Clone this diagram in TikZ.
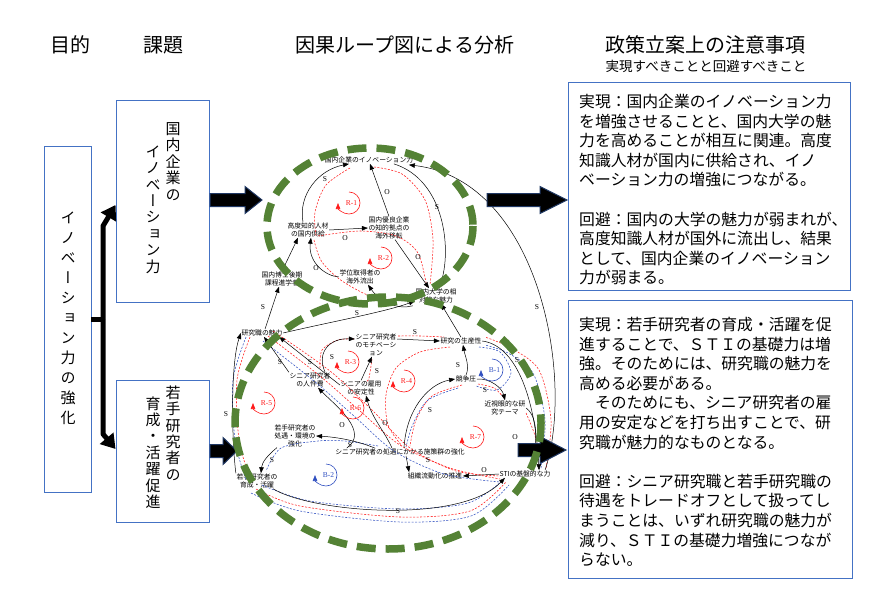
\documentclass[tikz,border=0pt]{standalone}
\usepackage{fontspec}
\setmainfont{Noto Sans CJK JP}
\newfontfamily\vjp[RawFeature=+vert]{Noto Sans CJK JP}
\newfontfamily\latser{Liberation Serif}
\usetikzlibrary{arrows.meta,calc}
\definecolor{boxblue}{HTML}{4472C4}
\definecolor{dgreen}{HTML}{548235}
\definecolor{navy}{HTML}{203864}
\definecolor{loopred}{HTML}{FF1A1A}
\definecolor{loopblue}{HTML}{2F4FC0}
\newcommand\blkarrow[4]{%
  \draw[blockarr] (#1,#3-6.5) -- (#2-#4,#3-6.5) -- (#2-#4,#3-13.5) -- (#2,#3) -- (#2-#4,#3+13.5) -- (#2-#4,#3+6.5) -- (#1,#3+6.5) -- cycle;}
\newcommand\loopmk[5]{%
  \node[font=\latser\fontsize{7.5}{8}\selectfont, text=#5, inner sep=0] (#1) at (#2+2.5,#3) {#4};
  \draw[#5, line width=0.6pt, -{Triangle[length=6pt,width=4.5pt]}] (#2,#3-11) arc[start angle=-90, end angle=180, radius=11];}
\begin{document}
\begin{tikzpicture}[x=1pt,y=-1pt,
  box/.style={draw=boxblue, line width=0.9pt, inner sep=0},
  vtext/.style={font=\vjp\fontsize{15}{16.4}\selectfont, align=center, inner sep=0},
  cld/.style={font=\fontsize{6.8}{7.8}\selectfont, align=center, inner sep=0.5pt},
  lab/.style={font=\latser\fontsize{7.5}{8}\selectfont, inner sep=0},
  arr/.style={draw=black, line width=0.5pt, -{Triangle[length=6pt,width=4.5pt]}},
  rd/.style={draw=loopred, line width=0.55pt, dash pattern=on 2pt off 1.5pt},
  bd/.style={draw=loopblue, line width=0.55pt, dash pattern=on 2pt off 1.5pt},
  gdash/.style={draw=dgreen, line width=7.5pt, dash pattern=on 19pt off 10pt},
  blockarr/.style={fill=black, draw=navy, line width=1pt},
  thickbr/.style={line width=5pt, line join=round},
  rtext/.style={font=\fontsize{15.8}{19.6}\selectfont, align=left, anchor=north west, inner sep=0},
]
\useasboundingbox (0,0) rectangle (896,607);

% headers
\node[font=\fontsize{20}{22}\selectfont] (h1) at (70,45) {目的};
\node[font=\fontsize{20}{22}\selectfont] (h2) at (163,45) {課題};
\node[font=\fontsize{20}{22}\selectfont] (h3) at (405,45) {因果ループ図による分析};
\node[font=\fontsize{20}{22}\selectfont] (h4) at (705,45) {政策立案上の注意事項};
\node[font=\fontsize{13.5}{15}\selectfont] (h5) at (706,66) {実現すべきことと回避すべきこと};

% left boxes
\node[box, minimum width=47pt, minimum height=346pt] (b1) at (67.5,319) {};
\node[vtext, font=\vjp\fontsize{15}{20}\selectfont] (t1) at (68,318) {イ\\ノ\\ベ\\ー\\シ\\ョ\\ン\\力\\の\\強\\化};
\node[box, minimum width=93pt, minimum height=202pt] (b2) at (162.5,201) {};
\node[vtext] (t2a) at (173,161.5) {国\\内\\企\\業\\の};
\node[vtext] (t2b) at (153,209.5) {イ\\ノ\\ベ\\ー\\シ\\ョ\\ン\\力};
\node[box, minimum width=93pt, minimum height=142pt] (b3) at (162.5,451) {};
\node[vtext] (t3a) at (173,433) {若\\手\\研\\究\\者\\の};
\node[vtext] (t3b) at (153,452.5) {育\\成\\・\\活\\躍\\促\\進};

\coordinate (bj) at (103,319);
\draw[thickbr] (b1.east) -- (bj);
\draw[thickbr, -{Triangle[length=14pt,width=17pt]}] (bj) -- (103,226) -- ($(b2.west)+(0,4)$);
\draw[thickbr, -{Triangle[length=14pt,width=17pt]}] (bj) -- (103,434) -- ($(b3.west)+(0,-2)$);

% right boxes
\node[box, minimum width=282pt, minimum height=208pt] (bA) at (709,186) {};
\node[rtext] (tA) at (579,94) {実現：国内企業のイノベーション力\\を増強させることと、国内大学の魅\\力を高めることが相互に関連。高度\\知識人材が国内に供給され、イノ\\ベーション力の増強につながる。\\[19.6pt]回避：国内の大学の魅力が弱まれが、\\高度知識人材が国外に流出し、結果\\として、国内企業のイノベーション\\力が弱まる。};
\node[box, minimum width=284pt, minimum height=278pt] (bB) at (710,439) {};
\node[rtext] (tB) at (579,317) {実現：若手研究者の育成・活躍を促\\進することで、ＳＴＩの基礎力は増\\強。そのためには、研究職の魅力を\\高める必要がある。\\　そのためにも、シニア研究者の雇\\用の安定などを打ち出すことで、研\\究職が魅力的なものとなる。\\[19.6pt]回避：シニア研究職と若手研究職の\\待遇をトレードオフとして扱ってし\\まうことは、いずれ研究職の魅力が\\減り、ＳＴＩの基礎力増強につなが\\らない。};

% CLD nodes
\node[cld] (n1) at (369,160) {国内企業のイノベーション力};
\node[cld] (n2) at (308,230) {高度知的人材\\の国内供給};
\node[cld] (n3) at (389,228) {国内優良企業\\の知的拠点の\\海外移転};
\node[cld] (n4) at (360,277) {学位取得者の\\海外流出};
\node[cld] (n5) at (282,279) {国内博士後期\\課程進学者};
\node[cld] (n6) at (436,296) {国内大学の相\\対的な魅力};
\node[cld] (n7) at (262,333) {研究職の魅力};
\node[cld] (n8) at (376,345) {シニア研究者\\のモチベーシ\\ョン};
\node[cld] (n9) at (461,341) {研究の生産性};
\node[cld] (n10) at (310,380) {シニア研究者\\の人件費};
\node[cld] (n11) at (361,388) {シニアの雇用\\の安定性};
\node[cld] (n12) at (466,379) {競争圧};
\node[cld] (n13) at (505,408) {近視眼的な研\\究テーマ};
\node[cld] (n14) at (295,436) {若手研究者の\\処遇・環境の\\強化};
\node[cld] (n15) at (400,452) {シニア研究者の処遇にかかる施策群の強化};
\node[cld] (n16) at (435,476) {組織流動化の推進};
\node[cld] (n17) at (257,481) {若手研究者の\\育成・活躍};
\node[cld] (n18) at (525,474) {STIの基盤的な力};

% red / blue dashed loop traces
\draw[rd] plot[smooth] coordinates {(374,167) (402,174) (425,200) (433,240) (430,285)};
\draw[rd] plot[smooth] coordinates {(350,168) (326,185) (315,212) (316,236)};
\draw[rd] plot[smooth] coordinates {(318,236) (360,231) (396,236) (418,253) (427,288)};
\draw[rd] plot[smooth] coordinates {(314,240) (322,262) (345,283) (385,301) (425,293)};
\draw[rd] plot[smooth] coordinates {(250,337) (237,380) (239,440) (250,478)};
\draw[bd] plot[smooth] coordinates {(246,337) (233,380) (235,440) (246,480)};
\draw[rd] plot[smooth] coordinates {(268,336) (320,376) (360,411) (400,445) (450,468) (500,479)};
\draw[rd] plot[smooth] coordinates {(273,331) (330,371) (372,410) (410,448) (456,471) (500,476)};
\draw[bd] plot[smooth] coordinates {(263,341) (314,381) (354,416) (394,451) (444,474) (500,482)};
\draw[rd] plot[smooth] coordinates {(256,489) (300,506) (400,517) (470,511) (506,482)};
\draw[bd] plot[smooth] coordinates {(251,493) (300,511) (400,522) (471,516) (509,485)};
\draw[bd] plot[smooth] coordinates {(262,485) (310,501) (400,509) (468,503) (503,480)};
\draw[rd] plot[smooth] coordinates {(546,468) (551,420) (539,370) (511,348) (485,337)};
\draw[bd] plot[smooth] coordinates {(541,468) (545,420) (533,373) (508,353) (485,345)};
\draw[rd] plot[smooth] coordinates {(398,336) (420,336) (444,337)};
\draw[rd] plot[smooth] coordinates {(320,368) (322,350) (338,340) (354,339)};
\draw[rd] plot[smooth] coordinates {(450,347) (420,352) (396,368) (386,395) (388,425) (402,446)};
\draw[rd] plot[smooth] coordinates {(462,385) (432,396) (416,420) (410,446)};
\draw[bd] plot[smooth] coordinates {(458,388) (428,400) (413,424) (406,447)};
\draw[rd] plot[smooth] coordinates {(478,384) (494,388) (505,399)};
\draw[rd] plot[smooth] coordinates {(526,413) (536,440) (533,466)};
\draw[bd] plot[smooth] coordinates {(479,347) (500,352) (511,373) (497,390) (476,386)};
\draw[bd] plot[smooth] coordinates {(378,446) (345,441) (318,441) (281,448) (266,471)};
\draw[rd] plot[smooth] coordinates {(372,359) (369,378) (366,382)};

% upper loop connectors
\draw[arr] ($(n2.north)+(-5,0)$) .. controls (298,195) and (318,170) .. ($(n1.south)+(-20,0)$);
\draw[arr] (n3.north) -- ($(n1.south)+(1,0)$);
\draw[arr] ($(n1.south east)+(-20,0)$) .. controls (445,180) and (452,250) .. ($(n6.north)+(3,0)$);
\draw[arr] (n2.east) -- (n3.west);
\draw[arr] (n4.west) .. controls (325,276) and (308,262) .. ($(n2.south)+(3,0)$);
\draw[arr] ($(n3.south)+(6,0)$) -- ($(n6.north)+(-7,0)$);
\draw[arr] ($(n6.south west)+(-2,2)$) .. controls (398,310) and (380,302) .. ($(n4.south)+(8,0)$);
\draw[arr] (n5.north) -- ($(n2.south)+(-10,0)$);
\draw[arr] ($(n7.north)+(3,0)$) -- ($(n5.south)+(-3,0)$);
\draw[arr] (n7.east) .. controls (330,322) and (385,312) .. ($(n6.west)+(0,5)$);
\draw[arr] ($(n18.north east)+(-6,0)$) .. controls (575,380) and (540,180) .. ($(n1.south east)+(-5,1)$);

% lower loop connectors
\draw[arr] ($(n8.east)+(0,-6)$) -- (n9.west);
\draw[arr] (n9.north) -- ($(n6.south)+(5,0)$);
\draw[arr] (n12.north) .. controls (470,366) and (465,356) .. ($(n9.south)+(2,0)$);
\draw[arr] (n12.east) .. controls (490,378) and (502,388) .. (n13.north);
\draw[arr] (n13.east) .. controls (540,418) and (536,448) .. ($(n18.north)+(5,0)$);
\draw[arr] ($(n15.north)+(4,0)$) .. controls (406,410) and (428,384) .. (n12.west);
\draw[arr] ($(n15.south)+(6,0)$) -- ($(n16.north west)+(2,0)$);
\draw[arr] (n18.west) -- (n16.east);
\draw[arr] ($(n17.south east)+(-5,0)$) .. controls (310,512) and (460,525) .. ($(n18.south west)+(6,0)$);
\draw[arr] ($(n14.south west)+(3,0)$) .. controls (268,455) and (262,462) .. ($(n17.north)+(4,0)$);
\draw[arr] ($(n15.north)+(-25,0)$) .. controls (355,440) and (335,437) .. (n14.east);
\draw[arr] (n17.north west) .. controls (232,445) and (230,365) .. (n7.west);
\draw[arr] (n11.north) -- ($(n8.south)+(-4,0)$);
\draw[arr] ($(n10.north east)+(-6,0)$) .. controls (316,352) and (330,338) .. ($(n8.west)+(0,-6)$);
\draw[arr] ($(n15.north west)+(12,0)$) .. controls (370,432) and (335,405) .. ($(n10.south)+(8,0)$);
\draw[arr] ($(n15.north)+(-8,0)$) .. controls (385,432) and (372,418) .. ($(n11.south)+(5,0)$);
\draw[arr] ($(n11.west)+(0,-3)$) -- ($(n7.south east)+(-4,0)$);
\draw[arr] (n10.north west) -- ($(n7.south)+(2,0)$);
\draw[arr] (n9.east) .. controls (515,345) and (535,395) .. ($(n18.north east)+(-12,0)$);

% S / O labels
\node[lab] (l1) at (325,179) {S};
\node[lab] (l2) at (387,192) {O};
\node[lab] (l3) at (437,207) {S};
\node[lab] (l4) at (345,238) {O};
\node[lab] (l5) at (316,268) {O};
\node[lab] (l6) at (418,257) {O};
\node[lab] (l7) at (263,307) {S};
\node[lab] (l8) at (357,313) {S};
\node[lab] (l9) at (537,307) {S};
\node[lab] (l10) at (415,332) {S};
\node[lab] (l11) at (280,362) {S};
\node[lab] (l12) at (310,362) {S};
\node[lab] (l13) at (332,357) {S};
\node[lab] (l14) at (377,371) {S};
\node[lab] (l15) at (458,365) {S};
\node[lab] (l16) at (485,390) {S};
\node[lab] (l17) at (517,360) {S};
\node[lab] (l18) at (515,437) {O};
\node[lab] (l19) at (430,410) {S};
\node[lab] (l20) at (342,425) {O};
\node[lab] (l21) at (385,423) {O};
\node[lab] (l22) at (350,445) {S};
\node[lab] (l23) at (428,460) {S};
\node[lab] (l24) at (484,470) {O};
\node[lab] (l25) at (272,460) {S};
\node[lab] (l26) at (226,414) {S};
\node[lab] (l27) at (398,511) {S};

% loop markers
\loopmk{r1}{349}{203}{R-1}{loopred}
\loopmk{r2}{381}{258}{R-2}{loopred}
\loopmk{r3}{348}{362}{R-3}{loopred}
\loopmk{r4}{404}{381}{R-4}{loopred}
\loopmk{r5}{264}{403}{R-5}{loopred}
\loopmk{r6}{353}{408}{R-6}{loopred}
\loopmk{r7}{473}{437}{R-7}{loopred}
\loopmk{bb1}{492}{370}{B-1}{loopblue}
\loopmk{bb2}{326}{475}{B-2}{loopblue}

% block arrows
\blkarrow{210}{262}{200}{17}
\blkarrow{487}{567}{200}{27}
\blkarrow{210}{237}{451}{14}
\blkarrow{518}{566}{450}{26}

% green dashed groupings
\draw[gdash] (370,226) ellipse [x radius=103, y radius=78];
\draw[gdash] (388,423) ellipse [x radius=153, y radius=126];
\end{tikzpicture}
\end{document}
